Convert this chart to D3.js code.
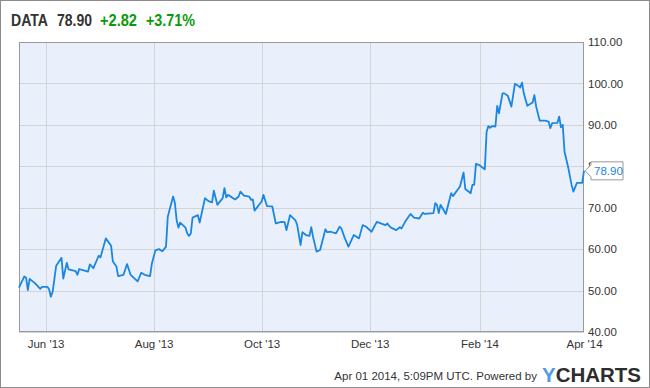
<!DOCTYPE html>
<html>
<head>
<meta charset="utf-8">
<script src="https://cdn.jsdelivr.net/npm/d3@7"></script>
<style>
  body { margin: 0; background: #fff; }
  svg { display: block; font-family: "Liberation Sans", Arial, sans-serif; }
</style>
</head>
<body>
<svg id="chart" width="650" height="388"></svg>
<script>
// price series
const dates = [
  "2013-05-17","2013-05-20","2013-05-21","2013-05-22","2013-05-23","2013-05-26","2013-05-29","2013-05-30",
  "2013-06-02","2013-06-03","2013-06-04","2013-06-05","2013-06-07","2013-06-10","2013-06-11","2013-06-13",
  "2013-06-14","2013-06-18","2013-06-19","2013-06-20","2013-06-25","2013-06-26","2013-06-28","2013-07-01",
  "2013-07-02","2013-07-05","2013-07-08","2013-07-09","2013-07-11","2013-07-12","2013-07-15","2013-07-17",
  "2013-07-19","2013-07-23","2013-07-25","2013-07-27","2013-07-30","2013-07-31","2013-08-02","2013-08-04",
  "2013-08-06","2013-08-08","2013-08-09","2013-08-12","2013-08-13","2013-08-14","2013-08-15","2013-08-16",
  "2013-08-19","2013-08-20","2013-08-21","2013-08-22","2013-08-23","2013-08-26","2013-08-27","2013-08-30",
  "2013-09-01","2013-09-03","2013-09-04","2013-09-06","2013-09-09","2013-09-10","2013-09-11","2013-09-12",
  "2013-09-16","2013-09-18","2013-09-19","2013-09-21","2013-09-24","2013-09-25","2013-09-26","2013-09-27",
  "2013-10-01","2013-10-02","2013-10-04","2013-10-07","2013-10-09","2013-10-12","2013-10-14","2013-10-15",
  "2013-10-17","2013-10-20","2013-10-21","2013-10-23","2013-10-24","2013-10-26","2013-10-28","2013-10-29",
  "2013-10-30","2013-11-01","2013-11-03","2013-11-06","2013-11-07","2013-11-09","2013-11-12","2013-11-14",
  "2013-11-15","2013-11-17","2013-11-19","2013-11-22","2013-11-25","2013-11-27","2013-11-29","2013-12-01",
  "2013-12-02","2013-12-05","2013-12-08","2013-12-10","2013-12-11","2013-12-12","2013-12-13","2013-12-16",
  "2013-12-18","2013-12-19","2013-12-21","2013-12-24","2013-12-26","2013-12-29","2013-12-31","2014-01-01",
  "2014-01-06","2014-01-07","2014-01-08","2014-01-09","2014-01-10","2014-01-13","2014-01-16","2014-01-17",
  "2014-01-21","2014-01-23","2014-01-24","2014-01-27","2014-01-28","2014-01-29","2014-01-30","2014-02-01",
  "2014-02-02","2014-02-04","2014-02-05","2014-02-06","2014-02-07","2014-02-08","2014-02-10","2014-02-11",
  "2014-02-12","2014-02-14","2014-02-15","2014-02-17","2014-02-19","2014-02-21","2014-02-23","2014-02-24",
  "2014-02-25","2014-02-26","2014-02-28","2014-03-03","2014-03-04","2014-03-05","2014-03-07","2014-03-10",
  "2014-03-12","2014-03-13","2014-03-14","2014-03-17","2014-03-18","2014-03-19","2014-03-20","2014-03-21",
  "2014-03-23","2014-03-25","2014-03-26","2014-03-28","2014-03-31","2014-04-01"
];
const prices = [
  50.7, 53.4, 53.1, 50.1, 52.8, 51.8, 50.4, 50.9,
  50.9, 50.3, 48.5, 49.7, 56.0, 57.9, 52.9, 56.7,
  55.1, 54.7, 53.8, 55.2, 54.6, 56.3, 55.4, 58.4,
  58.0, 62.6, 60.8, 57.0, 55.8, 53.5, 53.8, 56.4,
  53.8, 52.2, 54.3, 53.8, 53.5, 56.5, 59.7, 60.0,
  59.5, 60.6, 67.8, 72.7, 71.2, 67.0, 65.2, 66.4,
  65.2, 63.8, 63.2, 63.8, 67.6, 68.2, 66.4, 72.3,
  71.6, 71.3, 74.1, 70.7, 72.3, 74.7, 72.5, 73.1,
  72.0, 72.7, 73.9, 72.9, 72.7, 71.9, 72.0, 69.3,
  71.5, 73.1, 70.4, 70.3, 66.2, 66.6, 66.5, 64.6,
  68.2, 67.0, 66.0, 61.0, 64.1, 63.4, 63.2, 65.3,
  63.0, 59.4, 59.8, 64.8, 64.1, 64.2, 63.8, 65.4,
  65.0, 62.6, 60.6, 63.4, 62.6, 65.8, 65.4, 64.6,
  64.2, 66.6, 66.1, 65.8, 66.2, 65.6, 65.2, 64.6,
  65.3, 65.0, 66.6, 68.5, 67.6, 67.4, 68.8, 68.5,
  68.7, 71.1, 70.7, 68.7, 70.7, 68.5, 73.5, 72.8,
  75.1, 78.5, 74.5, 73.5, 75.5, 75.5, 80.6, 80.3,
  79.9, 79.3, 88.3, 89.7, 89.3, 89.7, 89.6, 94.6,
  92.8, 97.6, 97.6, 97.0, 94.4, 99.9, 99.4, 99.0,
  100.2, 97.6, 94.6, 95.4, 97.2, 94.4, 91.0, 91.0,
  90.8, 89.2, 90.4, 90.5, 92.0, 89.4, 90.0, 83.5,
  79.9, 75.5, 73.9, 76.0, 76.0, 78.9
];

// axis ticks
const xTickDates = ["2013-06-01","2013-08-01","2013-10-01","2013-12-01","2014-02-01","2014-04-01"];
const xTickLabels = ["Jun '13","Aug '13","Oct '13","Dec '13","Feb '14","Apr '14"];
const yTicks = [40, 50, 60, 70, 80, 90, 100, 110];

// header quote
const ticker = "DATA";
const lastPrice = 78.90;
const change = 2.82;
const changePct = 3.71;

const parse = d3.timeParse("%Y-%m-%d");
const data = dates.map((d, i) => ({ date: parse(d), value: prices[i] }));

const svg = d3.select("#chart");
const W = 650, H = 388;
const plot = { left: 19, right: 584, top: 42, bottom: 332 };

// outer frame
svg.append("rect")
  .attr("x", 0.5).attr("y", 0.5)
  .attr("width", W - 1).attr("height", H - 1)
  .attr("fill", "#fff").attr("stroke", "#8c8c8c");

const x = d3.scaleTime()
  .domain([parse("2013-05-17"), parse("2014-04-01")])
  .range([plot.left, plot.right]);

const y = d3.scaleLinear()
  .domain([40, 110])
  .range([plot.bottom, plot.top]);

// plot background
svg.append("rect")
  .attr("x", plot.left).attr("y", plot.top)
  .attr("width", plot.right - plot.left).attr("height", plot.bottom - plot.top)
  .attr("fill", "#eaf0fb");

// grid
const grid = svg.append("g").attr("stroke", "#d4d4d4").attr("stroke-width", 1);
grid.selectAll(".hgrid").data(yTicks).enter().append("line")
  .attr("x1", plot.left).attr("x2", plot.right)
  .attr("y1", d => Math.round(y(d)) + 0.5).attr("y2", d => Math.round(y(d)) + 0.5);
grid.selectAll(".vgrid").data(xTickDates.slice(0, -1)).enter().append("line")
  .attr("x1", d => Math.round(x(parse(d))) + 0.5).attr("x2", d => Math.round(x(parse(d))) + 0.5)
  .attr("y1", plot.top).attr("y2", plot.bottom);

// plot border
svg.append("rect")
  .attr("x", plot.left + 0.5).attr("y", plot.top + 0.5)
  .attr("width", plot.right - plot.left - 1).attr("height", plot.bottom - plot.top - 1)
  .attr("fill", "none").attr("stroke", "#9a9a9a");

// price line
const line = d3.line()
  .x(d => x(d.date))
  .y(d => y(d.value));

svg.append("path")
  .datum(data)
  .attr("fill", "none")
  .attr("stroke", "#1a86e2")
  .attr("stroke-width", 1.8)
  .attr("stroke-linejoin", "round")
  .attr("d", line);

// y axis labels
const yAxis = d3.axisRight(y)
  .tickValues(yTicks)
  .tickFormat(d3.format(".2f"))
  .tickSize(0)
  .tickPadding(4);
const gy = svg.append("g")
  .attr("transform", `translate(${plot.right},0)`)
  .call(yAxis);
gy.select(".domain").remove();
gy.selectAll("text")
  .attr("font-family", "'Liberation Sans', Arial, sans-serif")
  .attr("font-size", 11.5).attr("fill", "#333");

// x axis labels
const xAxis = d3.axisBottom(x)
  .tickValues(xTickDates.map(parse))
  .tickFormat((d, i) => xTickLabels[i])
  .tickSize(0)
  .tickPadding(8);
const gx = svg.append("g")
  .attr("transform", `translate(0,${plot.bottom})`)
  .call(xAxis);
gx.select(".domain").remove();
gx.selectAll("text")
  .attr("font-family", "'Liberation Sans', Arial, sans-serif")
  .attr("font-size", 11.5).attr("fill", "#333");

// last price tag
const last = data[data.length - 1];
const ty = y(last.value);
const tx = plot.right + 1;
const tag = svg.append("g");
tag.append("path")
  .attr("d", `M${tx},${ty} L${tx + 6},${ty - 6} L${tx + 6},${ty - 9} L${tx + 38},${ty - 9} L${tx + 38},${ty + 9} L${tx + 6},${ty + 9} L${tx + 6},${ty + 6} Z`)
  .attr("fill", "#fff").attr("stroke", "#999");
tag.append("text")
  .attr("x", tx + 9).attr("y", ty + 4.5)
  .attr("font-size", 11.5).attr("fill", "#1a86e2")
  .text(d3.format(".2f")(last.value));

// header
const headParts = [
  { text: ticker, x: 11, w: 37, fill: "#333" },
  { text: d3.format(".2f")(lastPrice), x: 57, w: 35, fill: "#333" },
  { text: "+" + d3.format(".2f")(change), x: 100, w: 37, fill: "#0a9a0a" },
  { text: "+" + d3.format(".2f")(changePct) + "%", x: 146, w: 49, fill: "#0a9a0a" }
];
svg.selectAll(".head").data(headParts).enter().append("text")
  .attr("class", "head")
  .attr("x", d => d.x).attr("y", 26)
  .attr("font-size", 16).attr("font-weight", "bold")
  .attr("textLength", d => d.w).attr("lengthAdjust", "spacingAndGlyphs")
  .attr("fill", d => d.fill)
  .text(d => d.text);

// footer
svg.append("text")
  .attr("x", 537).attr("y", 380)
  .attr("text-anchor", "end")
  .attr("font-size", 11.5).attr("fill", "#333")
  .text("Apr 01 2014, 5:09PM UTC.  Powered by");
const logo = svg.append("text")
  .attr("x", 542).attr("y", 382)
  .attr("font-size", 21).attr("font-weight", "bold")
  .attr("textLength", 99).attr("lengthAdjust", "spacingAndGlyphs");
logo.append("tspan").attr("fill", "#4d9be6").text("Y");
logo.append("tspan").attr("fill", "#2d2d2d").text("CHARTS");
</script>
</body>
</html>
